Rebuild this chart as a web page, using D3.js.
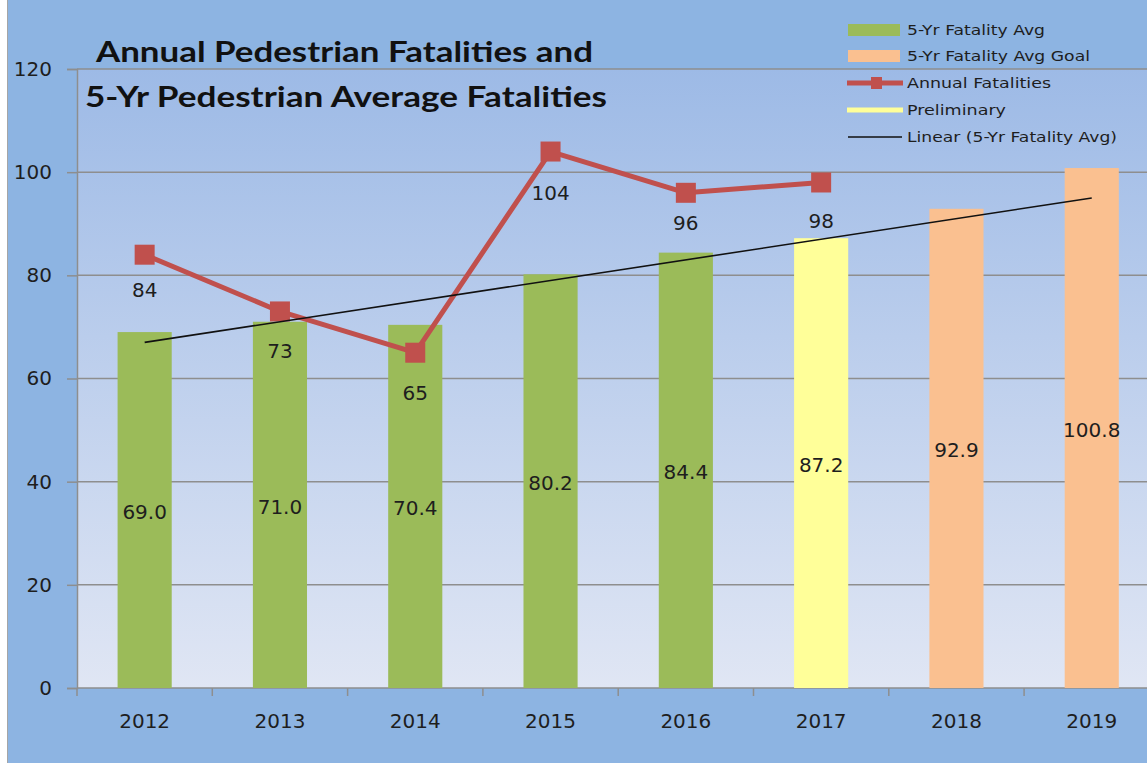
<!DOCTYPE html>
<html><head><meta charset="utf-8">
<script src="https://cdn.jsdelivr.net/npm/d3@7"></script>
<style>body{margin:0;background:#fff;} svg{display:block}</style>
</head><body>
<svg id="chart" width="1147" height="763"></svg>
<script>
// ---------- data ----------
const years = ["2012","2013","2014","2015","2016","2017","2018","2019"];
const fiveYrAvg = [69.0, 71.0, 70.4, 80.2, 84.4, null, null, null];
const preliminary = [null, null, null, null, null, 87.2, null, null];
const avgGoal = [null, null, null, null, null, null, 92.9, 100.8];
const annualFatalities = [84, 73, 65, 104, 96, 98, null, null];
const yTicks = [0, 20, 40, 60, 80, 100, 120];
const titleLines = ["Annual Pedestrian Fatalities and", "5-Yr Pedestrian Average Fatalities"];
const legendLabels = ["5-Yr Fatality Avg", "5-Yr Fatality Avg Goal", "Annual Fatalities", "Preliminary", "Linear (5-Yr Fatality Avg)"];

// ---------- layout / style ----------
const W = 1147, H = 763;
const P = {left: 77, top: 69, bottom: 688, step: 135.3};
const C = {outer: "#8DB4E2", green: "#9BBB59", yellow: "#FFFF99", peach: "#FAC090",
           red: "#C0504D", grid: "#8E8E8E", text: "#1E1E1E"};
const annualLabelDy = [35, 40, 40, 41, 30, 39];
const FONT = "'DejaVu Sans', Verdana, sans-serif";

const svg = d3.select("#chart");
const defs = svg.append("defs");
const grad = defs.append("linearGradient").attr("id", "plotbg")
  .attr("x1", 0).attr("y1", 0).attr("x2", 0).attr("y2", 1);
grad.append("stop").attr("offset", "0%").attr("stop-color", "#9DBAE6");
grad.append("stop").attr("offset", "100%").attr("stop-color", "#E0E6F4");

svg.append("rect").attr("width", W).attr("height", H).attr("fill", "#fff");
svg.append("rect").attr("x", 7).attr("y", 0).attr("width", W - 7).attr("height", H)
  .attr("fill", C.outer);
svg.append("line").attr("x1", 7.5).attr("x2", 7.5).attr("y1", 0).attr("y2", H)
  .attr("stroke", "#A6A6A6").attr("stroke-width", 1);

const x = d3.scaleBand().domain(years)
  .range([P.left, P.left + P.step * years.length]).padding(0);
const y = d3.scaleLinear().domain([0, 120]).range([P.bottom, P.top]);
const cx = d => x(d) + x.bandwidth() / 2;
const barW = x.bandwidth() * 0.4;

// plot area
svg.append("rect").attr("x", P.left).attr("y", P.top)
  .attr("width", W - P.left + 20).attr("height", P.bottom - P.top)
  .attr("fill", "url(#plotbg)");

// gridlines
svg.append("g").selectAll("line").data(yTicks.filter(t => t > 0)).join("line")
  .attr("x1", P.left).attr("x2", W + 20)
  .attr("y1", d => y(d)).attr("y2", d => y(d))
  .attr("stroke", C.grid).attr("stroke-width", 1.5);

// y axis
const yAxis = svg.append("g").attr("transform", `translate(${P.left},0)`)
  .call(d3.axisLeft(y).tickValues(yTicks).tickSize(10).tickPadding(15).tickFormat(d3.format("d")));
yAxis.select(".domain").attr("stroke", C.grid).attr("stroke-width", 1.5);
yAxis.selectAll(".tick line").attr("stroke", C.grid).attr("stroke-width", 1.5);
yAxis.selectAll("text").attr("font-family", FONT).attr("font-size", 20).attr("fill", C.text);

// x axis (labels at band centres, ticks at band boundaries)
const xAxis = svg.append("g").attr("transform", `translate(0,${P.bottom})`)
  .call(d3.axisBottom(x).tickSize(0).tickPadding(26));
xAxis.select(".domain").remove();
xAxis.selectAll("text").attr("font-family", FONT).attr("font-size", 20).attr("fill", C.text);
svg.append("line").attr("x1", P.left).attr("x2", W + 20)
  .attr("y1", P.bottom).attr("y2", P.bottom)
  .attr("stroke", C.grid).attr("stroke-width", 1.5);
svg.append("g").selectAll("line").data(years).join("line")
  .attr("x1", d => x(d)).attr("x2", d => x(d))
  .attr("y1", P.bottom).attr("y2", P.bottom + 8)
  .attr("stroke", C.grid).attr("stroke-width", 1.5);

// bars
const barSeries = [
  {vals: fiveYrAvg, color: C.green},
  {vals: preliminary, color: C.yellow},
  {vals: avgGoal, color: C.peach}
];
const barG = svg.append("g");
barSeries.forEach(s => {
  const pts = years.map((yr, i) => ({yr, v: s.vals[i]})).filter(p => p.v != null);
  barG.append("g").selectAll("rect").data(pts).join("rect")
    .attr("x", p => cx(p.yr) - barW / 2).attr("width", barW)
    .attr("y", p => y(p.v)).attr("height", p => y(0) - y(p.v))
    .attr("fill", s.color);
  barG.append("g").selectAll("text").data(pts).join("text")
    .attr("x", p => cx(p.yr)).attr("y", p => (y(p.v) + y(0)) / 2 + 2)
    .attr("text-anchor", "middle").attr("dominant-baseline", "central")
    .attr("font-family", FONT).attr("font-size", 20).attr("fill", C.text)
    .text(p => p.v.toFixed(1));
});

// annual fatalities line
const ann = years.map((yr, i) => ({yr, v: annualFatalities[i], i})).filter(p => p.v != null);
svg.append("path").datum(ann)
  .attr("d", d3.line().x(p => cx(p.yr)).y(p => y(p.v)))
  .attr("fill", "none").attr("stroke", C.red).attr("stroke-width", 5)
  .attr("stroke-linejoin", "round");
svg.append("g").selectAll("rect").data(ann).join("rect")
  .attr("x", p => cx(p.yr) - 10).attr("y", p => y(p.v) - 10)
  .attr("width", 20).attr("height", 20).attr("fill", C.red);
svg.append("g").selectAll("text").data(ann).join("text")
  .attr("x", p => cx(p.yr)).attr("y", p => y(p.v) + annualLabelDy[p.i])
  .attr("text-anchor", "middle").attr("dominant-baseline", "central")
  .attr("font-family", FONT).attr("font-size", 20).attr("fill", C.text)
  .text(p => p.v);

// linear trend of 5-yr average, forecast to last year
const reg = fiveYrAvg.map((v, i) => ({xi: i + 1, v})).filter(p => p.v != null);
const mx = d3.mean(reg, p => p.xi), my = d3.mean(reg, p => p.v);
const slope = d3.sum(reg, p => (p.xi - mx) * (p.v - my)) / d3.sum(reg, p => (p.xi - mx) ** 2);
const icpt = my - slope * mx;
const trend = [{yr: years[0], v: icpt + slope * 1}, {yr: years[years.length - 1], v: icpt + slope * years.length}];
svg.append("path").datum(trend)
  .attr("d", d3.line().x(p => cx(p.yr)).y(p => y(p.v)))
  .attr("stroke", "#111").attr("stroke-width", 1.6).attr("fill", "none");

// title
const titleG = svg.append("g").attr("font-family", "Lato, 'Open Sans', sans-serif")
  .attr("font-weight", 700).attr("font-size", 29).attr("fill", "#111");
titleG.append("text").attr("x", 96).attr("y", 62).attr("textLength", 497)
  .attr("lengthAdjust", "spacingAndGlyphs").text(titleLines[0]);
titleG.append("text").attr("x", 85).attr("y", 107).attr("textLength", 522)
  .attr("lengthAdjust", "spacingAndGlyphs").text(titleLines[1]);

// legend
const lg = svg.append("g");
const lgY = [30, 56, 83, 110, 137];
const lgW = [138, 183, 144, 99, 210];
lg.append("rect").attr("x", 848).attr("y", lgY[0] - 6).attr("width", 52).attr("height", 12).attr("fill", C.green);
lg.append("rect").attr("x", 848).attr("y", lgY[1] - 6).attr("width", 52).attr("height", 12).attr("fill", C.peach);
lg.append("line").attr("x1", 847).attr("x2", 903).attr("y1", lgY[2]).attr("y2", lgY[2])
  .attr("stroke", C.red).attr("stroke-width", 5);
lg.append("rect").attr("x", 871).attr("y", lgY[2] - 6).attr("width", 11).attr("height", 12).attr("fill", C.red);
lg.append("line").attr("x1", 847).attr("x2", 903).attr("y1", lgY[3]).attr("y2", lgY[3])
  .attr("stroke", C.yellow).attr("stroke-width", 5);
lg.append("line").attr("x1", 848).attr("x2", 902).attr("y1", lgY[4]).attr("y2", lgY[4])
  .attr("stroke", "#111").attr("stroke-width", 1.5);
lg.selectAll("text").data(legendLabels).join("text")
  .attr("x", 907).attr("y", (d, i) => lgY[i]).attr("dominant-baseline", "central")
  .attr("textLength", (d, i) => lgW[i]).attr("lengthAdjust", "spacingAndGlyphs")
  .attr("font-family", "'DejaVu Sans', Tahoma, sans-serif").attr("font-size", 14)
  .attr("fill", C.text).text(d => d);
</script>
</body></html>
